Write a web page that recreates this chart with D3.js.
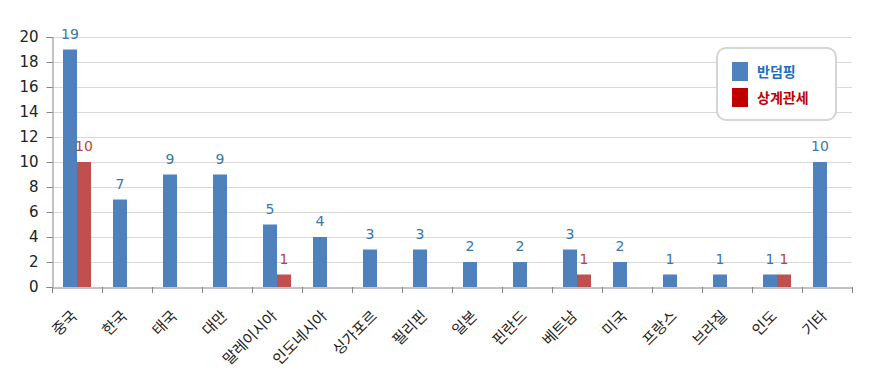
<!DOCTYPE html>
<html><head><meta charset="utf-8">
<script src="https://cdn.jsdelivr.net/npm/d3@7"></script>
<style>body{margin:0;background:#fff}svg{display:block}</style>
</head><body>
<script>
const categories = ["중국","한국","태국","대만","말레이시아","인도네시아","싱가포르","필리핀","일본","핀란드","베트남","미국","프랑스","브라질","인도","기타"];
const antiDumping = [19,7,9,9,5,4,3,3,2,2,3,2,1,1,1,10];
const countervailing = [10,0,0,0,1,0,0,0,0,0,1,0,0,0,1,0];
const seriesNames = ["반덤핑","상계관세"];
const yTicks = [0,2,4,6,8,10,12,14,16,18,20];

const W=888,H=384;
const m={l:52,r:36,t:37,b:97};
const svg=d3.select("body").append("svg").attr("width",W).attr("height",H);
const font="'Noto Sans CJK KR','Noto Sans',sans-serif";
const numFont="'DejaVu Sans','Noto Sans',sans-serif";

const x=d3.scaleBand().domain(categories).range([m.l,W-m.r]).paddingInner(0).paddingOuter(0);
const y=d3.scaleLinear().domain([0,20]).range([H-m.b,m.t]);
const barW=14;

// gridlines
svg.append("g").selectAll("line").data(yTicks.filter(d=>d>0)).join("line")
  .attr("x1",m.l).attr("x2",W-m.r).attr("y1",d=>y(d)+0.5).attr("y2",d=>y(d)+0.5)
  .attr("stroke","#d9d9d9").attr("stroke-width",1);

// y axis
const ya=svg.append("g").attr("transform",`translate(${m.l+0.5},0)`)
  .call(d3.axisLeft(y).tickValues(yTicks).tickSize(6).tickPadding(8));
ya.select(".domain").attr("stroke","#868686");
ya.selectAll(".tick line").attr("stroke","#868686");
ya.selectAll("text").attr("font-family",numFont).attr("font-size",15).attr("fill","#222");

// x axis
const xa=svg.append("g").attr("transform",`translate(0,${y(0)+0.5})`)
  .call(d3.axisBottom(x).tickSize(0).tickFormat(""));
xa.select(".domain").attr("stroke","#868686");
svg.append("g").selectAll("line").data(d3.range(categories.length+1)).join("line")
  .attr("x1",i=>Math.round(m.l+i*x.step())+0.5).attr("x2",i=>Math.round(m.l+i*x.step())+0.5)
  .attr("y1",y(0)).attr("y2",y(0)+6).attr("stroke","#868686");

svg.append("g").selectAll("text").data(categories).join("text")
  .attr("transform",d=>`translate(${x(d)+x.bandwidth()/2+1},${y(0)+30}) rotate(-45)`)
  .attr("text-anchor","end").attr("font-family",font).attr("font-size",15).attr("fill","#222")
  .text(d=>d);

const cx=d=>x(d)+x.bandwidth()/2;
// blue bars
svg.append("g").selectAll("rect").data(categories).join("rect")
  .attr("x",d=>cx(d)-barW).attr("width",barW)
  .attr("y",(d,i)=>y(antiDumping[i])).attr("height",(d,i)=>y(0)-y(antiDumping[i]))
  .attr("fill","#4f81bd");
// red bars
svg.append("g").selectAll("rect").data(categories).join("rect")
  .attr("x",d=>cx(d)).attr("width",barW)
  .attr("y",(d,i)=>y(countervailing[i])).attr("height",(d,i)=>y(0)-y(countervailing[i]))
  .attr("fill","#c0504d");

// labels
svg.append("g").selectAll("text").data(categories).join("text")
  .attr("x",d=>cx(d)-barW/2).attr("y",(d,i)=>y(antiDumping[i])-11)
  .attr("text-anchor","middle").attr("font-family",numFont).attr("font-size",14).attr("fill","#3579b1")
  .text((d,i)=>antiDumping[i]);
svg.append("g").selectAll("text").data(categories.filter((d,i)=>countervailing[i]>0)).join("text")
  .attr("x",d=>cx(d)+barW/2).attr("y",d=>y(countervailing[categories.indexOf(d)])-11)
  .attr("text-anchor","middle").attr("font-family",numFont).attr("font-size",14).attr("fill","#c0413e")
  .text(d=>countervailing[categories.indexOf(d)]);

// legend
const lg=svg.append("g").attr("transform","translate(717,48)");
lg.append("rect").attr("width",119).attr("height",72).attr("rx",9).attr("fill","#fff")
  .attr("stroke","#d4d4d4").attr("stroke-width",2);
const lc=["#4f81bd","#c00000"], ltc=["#1f6fbf","#c00000"];
seriesNames.forEach((s,i)=>{
  lg.append("rect").attr("x",15).attr("y",14+i*26).attr("width",16).attr("height",19).attr("fill",lc[i]);
  lg.append("text").attr("x",40).attr("y",29+i*26).attr("font-family",font).attr("font-size",14)
    .attr("font-weight","bold").attr("fill",ltc[i]).text(s);
});
</script>
</body></html>
